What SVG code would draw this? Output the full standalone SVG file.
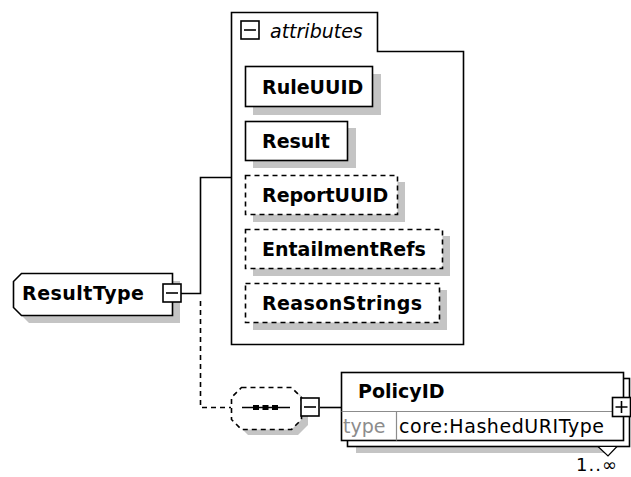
<svg xmlns="http://www.w3.org/2000/svg" width="631" height="477" viewBox="0 0 631 477">
<style>
.ln{fill:none;stroke:#000;stroke-width:1.6}
.dash{stroke-dasharray:5,4}
.box{fill:#fff;stroke:#000;stroke-width:1.6}
.sh{fill:#c4c4c4;stroke:none}
.b{font-family:"DejaVu Sans",Verdana,sans-serif;font-weight:bold;font-size:19px;fill:#000}
.r{font-family:"DejaVu Sans",Verdana,sans-serif;font-size:19px;fill:#000}
.it{font-family:"DejaVu Sans",Verdana,sans-serif;font-style:italic;font-size:19px;fill:#000}
.g{fill:#8c8c8c}
.sep{stroke:#8c8c8c;stroke-width:1.2;fill:none}
</style>
<defs>
<g id="minus"><rect x="0.5" y="0.5" width="18" height="18" class="box"/><path d="M3.5 9.5H15.5" class="ln"/></g>
</defs>
<g id="connectors">
<path d="M181 293.5H200.5V177.5H231" class="ln"/>
<path d="M200.5 301V407.5H231" class="ln dash"/>
<path d="M320 407.5H341" class="ln"/>
</g>
<g id="ResultType">
<polygon points="29,281 180,281 180,323 29,323 21,315 21,289" class="sh"/>
<polygon points="21.5,273.5 172.5,273.5 172.5,315.5 21.5,315.5 13.5,307.5 13.5,281.5" class="box"/>
<text x="22" y="300" class="b" textLength="122" lengthAdjust="spacing">ResultType</text>
<use href="#minus" x="162.5" y="283.5"/>
</g>
<g id="attributes">
<path d="M231.5 12.5H377.5V51.5H463.5V344.5H231.5Z" class="box"/>
<use href="#minus" x="240.5" y="20.5"/>
<text x="270" y="38" class="it">attributes</text>
</g>
<g id="RuleUUID">
<rect x="253" y="74" width="128" height="41" class="sh"/>
<rect x="245.5" y="66.5" width="127" height="40" class="box"/>
<text x="262" y="93.5" class="b">RuleUUID</text>
</g>
<g id="Result">
<rect x="253" y="128" width="103" height="40" class="sh"/>
<rect x="245.5" y="121.5" width="102" height="39" class="box"/>
<text x="262" y="148" class="b">Result</text>
</g>
<g id="ReportUUID">
<rect x="253" y="182" width="152" height="40" class="sh"/>
<rect x="245.5" y="175.5" width="152" height="39" class="box dash"/>
<text x="262" y="202" class="b">ReportUUID</text>
</g>
<g id="EntailmentRefs">
<rect x="253" y="236" width="197" height="40" class="sh"/>
<rect x="245.5" y="229.5" width="197" height="39" class="box dash"/>
<text x="262" y="256" class="b">EntailmentRefs</text>
</g>
<g id="ReasonStrings">
<rect x="253" y="290" width="194" height="40" class="sh"/>
<rect x="245.5" y="283.5" width="194" height="39" class="box dash"/>
<text x="262" y="310" class="b" textLength="160" lengthAdjust="spacing">ReasonStrings</text>
</g>
<g id="sequence">
<polygon points="248,393 298,393 308,403 308,425 298,435 248,435 238,425 238,403" class="sh"/>
<polygon points="241.5,387.5 291.5,387.5 301.5,397.5 301.5,419.5 291.5,429.5 241.5,429.5 231.5,419.5 231.5,397.5" class="box dash"/>
<path d="M242 407.5H290" class="ln"/>
<rect x="253" y="405" width="6" height="5" fill="#000"/>
<rect x="262.5" y="405" width="6" height="5" fill="#000"/>
<rect x="272" y="405" width="6" height="5" fill="#000"/>
<use href="#minus" x="300.5" y="397.5"/>
</g>
<g id="PolicyID">
<rect x="356" y="446" width="250" height="7" class="sh"/>
<rect x="347.5" y="378.5" width="282" height="68" class="box"/>
<rect x="341.5" y="372.5" width="282" height="68" class="box"/>
<path d="M341.5 411.5H623.5M396.5 411.5V440.5" class="sep"/>
<text x="358" y="398" class="b">PolicyID</text>
<text x="343" y="433" class="r g">type</text>
<text x="399" y="433" class="r" textLength="205" lengthAdjust="spacing">core:HashedURIType</text>
<rect x="612.5" y="397.5" width="18" height="19" class="box"/>
<path d="M615.5 407H627.5M621.5 401V413" class="ln"/>
<polygon points="598,446.5 608,456 617,446.5" fill="#fff" stroke="#000" stroke-width="1.2"/>
<text x="576" y="471" class="r" style="font-size:18px" textLength="41" lengthAdjust="spacing">1..∞</text>
</g>
</svg>
